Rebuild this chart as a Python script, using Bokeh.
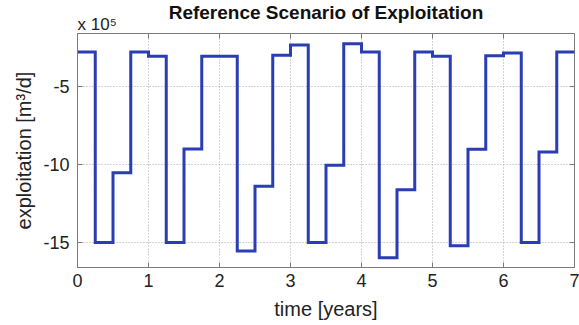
from math import pi
from bokeh.plotting import figure
from bokeh.models import Label, FixedTicker, Range1d
from bokeh.embed import file_html
from bokeh.resources import INLINE

# ---- data (exploitation in units of 1e5 m^3/d, piecewise constant per quarter) ----
quarter_start = [0.00, 0.25, 0.50, 0.75,
                 1.00, 1.25, 1.50, 1.75,
                 2.00, 2.25, 2.50, 2.75,
                 3.00, 3.25, 3.50, 3.75,
                 4.00, 4.25, 4.50, 4.75,
                 5.00, 5.25, 5.50, 5.75,
                 6.00, 6.25, 6.50, 6.75]
exploitation_1e5 = [-2.78, -15.00, -10.53, -2.78,
                    -3.06, -15.00, -9.00, -3.06,
                    -3.06, -15.54, -11.39, -3.00,
                    -2.33, -15.00, -10.05, -2.25,
                    -2.78, -15.97, -11.62, -2.78,
                    -3.06, -15.20, -9.02, -3.02,
                    -2.85, -15.00, -9.19, -2.78]
end_time = 7.0

x_ticks = [0, 1, 2, 3, 4, 5, 6, 7]
x_tick_labels = ["0", "1", "2", "3", "4", "5", "6", "7"]
y_ticks = [-15, -10, -5]
y_tick_labels = ["-15", "-10", "-5"]

title_text = "Reference Scenario of Exploitation"
x_label = "time [years]"
y_label = "exploitation [m\u00b3/d]"
scale_text = "x 10\u2075"

FONT = "Liberation Sans"
Y0, Y1 = -16.6, -1.6
X0, X1 = 0, 7
AX_COLOR = "#7a7a7a"

p = figure(width=579, height=325, output_backend="svg", toolbar_location=None,
           x_range=Range1d(X0, X1), y_range=Range1d(Y0, Y1),
           min_border_left=77, min_border_right=5, min_border_top=33, min_border_bottom=58)
p.background_fill_color = "white"
p.border_fill_color = "white"
p.outline_line_color = AX_COLOR
p.outline_line_width = 1

for g in (p.xgrid[0], p.ygrid[0]):
    g.grid_line_color = "#a8a8a8"
    g.grid_line_dash = "1 2"
    g.grid_line_width = 1
p.xgrid[0].ticker = FixedTicker(ticks=x_ticks)
p.ygrid[0].ticker = FixedTicker(ticks=y_ticks)

xs = quarter_start + [end_time]
ys = exploitation_1e5 + [exploitation_1e5[-1]]
p.step(xs, ys, mode="after", line_color="#2B3DB3", line_width=3, line_join="miter")

# inner ticks on the top and right edges (half of each dash is clipped by the frame)
p.scatter(x=x_ticks, y=[Y1] * len(x_ticks), marker="dash", angle=pi / 2, size=10,
          line_color=AX_COLOR, line_width=1)
p.scatter(x=[X1] * len(y_ticks), y=y_ticks, marker="dash", angle=0, size=10,
          line_color=AX_COLOR, line_width=1)

def style_axis(ax, ticks, labels, label, label_standoff, tick_standoff):
    ax.ticker = FixedTicker(ticks=ticks)
    ax.major_label_overrides = {t: l for t, l in zip(ticks, labels)}
    ax.major_tick_in = 5
    ax.major_tick_out = 0
    ax.minor_tick_in = 0
    ax.minor_tick_out = 0
    ax.axis_line_color = AX_COLOR
    ax.major_tick_line_color = AX_COLOR
    ax.major_label_text_font = FONT
    ax.major_label_text_font_size = "18px"
    ax.major_label_text_color = "#222222"
    ax.major_label_standoff = tick_standoff
    ax.axis_label = label
    ax.axis_label_text_font = FONT
    ax.axis_label_text_font_size = "20px"
    ax.axis_label_text_font_style = "normal"
    ax.axis_label_text_color = "#222222"
    ax.axis_label_standoff = label_standoff

style_axis(p.xaxis[0], x_ticks, x_tick_labels, x_label, 8, 6)
style_axis(p.yaxis[0], y_ticks, y_tick_labels, y_label, 5, 8)

# scale factor above the top-left corner of the frame (in the top side panel)
p.add_layout(Label(x=0, y=9, x_units="screen", y_units="screen", text=scale_text,
                   text_font=FONT, text_font_size="17px", text_align="left",
                   text_baseline="alphabetic", text_color="#222222"), "above")

# title (negative standoff keeps it on the same row as the scale factor)
p.title.text = title_text
p.title.align = "center"
p.title.offset = 4
p.title.standoff = -16
p.title.text_font = FONT
p.title.text_font_size = "19px"
p.title.text_font_style = "bold"
p.title.text_color = "#111111"

open("out.html", "w").write(file_html(p, INLINE))
